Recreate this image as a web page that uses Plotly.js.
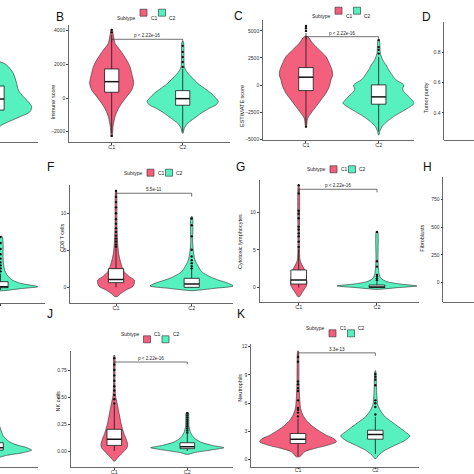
<!DOCTYPE html>
<html><head><meta charset="utf-8">
<script src="https://cdn.plot.ly/plotly-3.0.1.min.js"></script>
<style>html,body{margin:0;padding:0;background:#fff}#chart{width:474px;height:474px}</style>
</head><body><div id="chart"></div>
<script>
// ---------------- DATA ----------------
const categories = ['C1', 'C2'];
const legendTitle = 'Subtype';

// Y tick labels per panel
const yTicksB = [-2000, 0, 2000, 4000];
const yTicksC = [-5000, -2500, 0, 2500, 5000];
const yTicksD = [0.4, 0.6, 0.8];
const yTicksF = [0, 5, 10];
const yTicksG = [0, 5, 10];
const yTicksH = [0, 250, 500, 750];
const yTicksJ = [0, 0.25, 0.5, 0.75];
const yTickTextJ = ['0.00', '0.25', '0.50', '0.75'];
const yTicksK = [0, 3, 6, 9, 12];

const yTitles = ['Immune score', 'ESTIMATE score', 'Tumor purity', 'CD8 T cells',
                 'Cytotoxic lymphocytes', 'Fibroblasts', 'NK cells', 'Neutrophils'];
const panelLetters = ['B', 'C', 'D', 'F', 'G', 'H', 'J', 'K'];

// Violin profiles: y levels and half-widths (category units); boxes: [lower, q1, median, q3, upper]
const A_C2_y = [2855, 2160, 2065, 1863, 1472, 878, 481, 83, -214, -511, -807, -1104, -1401, -1597, -1775];
const A_C2_w = [0.01, 0.042, 0.099, 0.16, 0.23, 0.277, 0.3, 0.371, 0.441, 0.488, 0.465, 0.324, 0.16, 0.066, 0.01];
const A_C2_box = [-1500, -706, -54, 718, 2100];

const B_C1_y = [4083, 3252, 2855, 2261, 1864, 1472, 878, 481, 83, -309, -706, -1104, -1698, -2291];
const B_C1_w = [0.005, 0.047, 0.117, 0.211, 0.258, 0.282, 0.31, 0.282, 0.211, 0.141, 0.085, 0.047, 0.019, 0.005];
const B_C1_box = [-2100, 344, 973, 1727, 3750];
const B_C1_out = [3900, 4050, -2250];
const B_C2_y = [3349, 1865, 1568, 1272, 876, 580, 283, -14, -212, -410, -607, -904, -1201, -1498, -1794, -2091];
const B_C2_w = [0.009, 0.023, 0.056, 0.117, 0.211, 0.305, 0.399, 0.469, 0.502, 0.469, 0.376, 0.258, 0.164, 0.07, 0.023, 0.005];
const B_C2_box = [-2000, -428, -36, 440, 1740];
const B_C2_out = [1850, 2140, 2440, 2740, 3100];

const C_C1_y = [4476, 3861, 3244, 2628, 2013, 1396, 934, 472, -144, -759, -1376, -1992, -2607, -3069, -3840];
const C_C1_w = [0.023, 0.092, 0.183, 0.275, 0.321, 0.358, 0.367, 0.344, 0.321, 0.275, 0.206, 0.138, 0.069, 0.023, 0.005];
const C_C1_box = [-3700, -516, 722, 1610, 4800];
const C_C1_out = [5000, 5250, 5450, -3850];
const C_C2_y = [4168, 2937, 2320, 1858, 1396, 934, 472, 10, -452, -914, -1376, -1684, -1992, -2454, -2916, -3378, -3840, -4302, -4610];
const C_C2_w = [0.009, 0.023, 0.055, 0.101, 0.138, 0.183, 0.239, 0.344, 0.33, 0.39, 0.459, 0.491, 0.436, 0.321, 0.206, 0.115, 0.046, 0.014, 0.005];
const C_C2_box = [-4300, -1773, -1098, 10, 2600];
const C_C2_out = [2900, 3250, 3500, 4150];

const E_C2_y = [6.86, 3.72, 2.38, 1.70, 1.03, 0.59, 0.14, -0.13, -0.4];
const E_C2_w = [0.022, 0.035, 0.053, 0.088, 0.154, 0.264, 0.493, 0.264, 0.044];
const E_C2_box = [-0.3, 0.0, 0.14, 0.81, 1.9];
const E_C2_out = [2.2, 2.6, 3.0, 3.4, 3.9, 4.5, 5.2, 6.0, 6.8];

const F_C1_y = [13.13, 8.2, 5.96, 4.62, 3.72, 2.83, 2.15, 1.48, 1.03, 0.59, 0.14, -0.31, -0.76, -1.2];
const F_C1_w = [0.004, 0.013, 0.022, 0.035, 0.053, 0.079, 0.11, 0.176, 0.242, 0.242, 0.22, 0.132, 0.066, 0.013];
const F_C1_box = [0.05, 0.68, 1.1, 2.56, 5.3];
const F_C1_out = [5.5, 5.8, 6.2, 6.6, 7.0, 7.5, 8.0, 8.6, 9.2, 10.0, 10.8, 11.5, 12.2, 13.0];
const F_C2_y = [9.54, 5.96, 4.62, 3.72, 2.83, 2.15, 1.48, 1.03, 0.59, 0.23, -0.08, -0.4];
const F_C2_w = [0.009, 0.013, 0.026, 0.044, 0.088, 0.132, 0.242, 0.352, 0.485, 0.551, 0.308, 0.022];
const F_C2_box = [0.0, 0.05, 0.5, 1.26, 2.5];
const F_C2_out = [2.6, 2.9, 3.3, 3.7, 4.2, 5.1, 6.9, 8.4, 9.3];

const G_C1_y = [13.62, 5.88, 3.67, 3.01, 2.35, 1.46, 0.58, 0.14, -0.53, -1.19];
const G_C1_w = [0.004, 0.009, 0.017, 0.043, 0.077, 0.094, 0.106, 0.094, 0.051, 0.009];
const G_C1_box = [0.02, 0.49, 1.02, 2.35, 5.1];
const G_C1_out = [5.4, 6.1, 6.8, 7.2, 7.7, 8.1, 9.2, 9.8, 10.2, 12.5, 13.6];
const G_C2_y = [7.43, 3.67, 1.9, 1.24, 0.8, 0.49, 0.23, 0.0, -0.22];
const G_C2_w = [0.009, 0.013, 0.026, 0.051, 0.128, 0.298, 0.511, 0.255, 0.021];
const G_C2_box = [0.0, 0.02, 0.1, 0.35, 0.8];
const G_C2_out = [1.0, 1.24, 1.5, 1.7, 2.8, 3.5, 7.4];

const I_C2_y = [0.262, 0.201, 0.139, 0.093, 0.062, 0.031, 0.009, -0.015, -0.040, -0.052, -0.065];
const I_C2_w = [0.03, 0.064, 0.1, 0.169, 0.26, 0.42, 0.489, 0.374, 0.146, 0.078, 0.02];
const I_C2_box = [0.0, 0.009, 0.031, 0.077, 0.18];

const J_C1_y = [0.886, 0.633, 0.509, 0.448, 0.386, 0.324, 0.262, 0.201, 0.154, 0.108, 0.062, 0.031, 0, -0.031, -0.062, -0.093];
const J_C1_w = [0.005, 0.009, 0.018, 0.037, 0.055, 0.073, 0.091, 0.114, 0.137, 0.164, 0.183, 0.174, 0.137, 0.091, 0.046, 0.009];
const J_C1_box = [0.0, 0.052, 0.108, 0.201, 0.425];
const J_C1_out = [0.44, 0.48, 0.52, 0.56, 0.6, 0.65, 0.7, 0.75, 0.8, 0.86];
const J_C2_y = [0.355, 0.231, 0.17, 0.123, 0.083, 0.052, 0.031, 0.009, -0.015, -0.031];
const J_C2_w = [0.014, 0.023, 0.046, 0.091, 0.183, 0.342, 0.502, 0.32, 0.091, 0.014];
const J_C2_box = [0.0, 0.022, 0.04, 0.077, 0.16];
const J_C2_out = [0.17, 0.19, 0.21, 0.23, 0.25, 0.27, 0.29, 0.31, 0.33, 0.35];

const K_C1_y = [11.55, 8.21, 6.46, 5.41, 4.71, 4.18, 3.65, 3.13, 2.6, 2.18, 1.9, 1.55, 1.2, 0.85, 0.32];
const K_C1_w = [0.004, 0.013, 0.022, 0.034, 0.065, 0.108, 0.172, 0.259, 0.366, 0.474, 0.496, 0.388, 0.216, 0.086, 0.022];
const K_C1_box = [0.4, 1.73, 2.18, 2.78, 4.35];
const K_C1_out = [4.6, 5.0, 5.3, 5.5, 6.3, 7.3, 7.6, 8.0, 8.3, 10.4, 10.9];
const K_C2_y = [9.44, 7.16, 5.76, 5.06, 4.53, 4.0, 3.48, 2.95, 2.53, 2.07, 1.55, 1.02, 0.49, 0.14];
const K_C2_w = [0.004, 0.017, 0.034, 0.078, 0.129, 0.216, 0.302, 0.388, 0.448, 0.388, 0.259, 0.129, 0.043, 0.009];
const K_C2_box = [0.6, 2.18, 2.67, 3.13, 4.55];
const K_C2_out = [4.8, 5.6, 6.0, 6.3, 7.9, 8.5, 8.8, 9.1];

// Significance brackets
const sigPanels = ['B', 'C', 'F', 'G', 'J', 'K'];
const sigHeights = [3490, 4463, 12.69, 13.05, 0.824, 11.34];
const sigTips = [180, 277, 0.45, 0.4, 0.021, 0.32];
const pLabels = ['p < 2.22e-16', 'p < 2.22e-16', '5.5e-11', 'p < 2.22e-16', 'p < 2.22e-16', '3.3e-13'];

// ---------------- LAYOUT / STYLE ----------------
const W = 474;
const FONT = 'Liberation Sans, Arial, sans-serif';
const COL = {C1: '#F2607E', C2: '#57F0BF'};
const INK = '#2a2a2a';
const BOXW = 0.1; // half box width in category units
const px = x => x / W;
const py = y => 1 - y / W;

// panel frames in pixels: [left, right, top, bottom]
const panels = [
  {id: 'A', f: [0, 38, 25, 142.5], xr: [2.042, 2.577], yr: [-2630, 4338], yt: null, xt: [2]},
  {id: 'B', f: [69, 230, 25, 142], xr: [0.399, 2.666], yr: [-2611, 4338], yt: yTicksB, xt: [1, 2]},
  {id: 'C', f: [263, 414, 20, 140], xr: [0.409, 2.486], yr: [-5082, 6006], yt: yTicksC, xt: [1, 2]},
  {id: 'D', f: [444.3, 474, 21.7, 140], xr: [0.42, 0.829], yr: [0.222, 1.0], yt: yTicksD, xt: [], fmt: '.1f'},
  {id: 'E', f: [0, 45, 185, 302.7], xr: [1.993, 2.588], yr: [-2.016, 13.8], yt: null, xt: [2]},
  {id: 'F', f: [70, 233, 185, 302.7], xr: [0.392, 2.546], yr: [-2.016, 13.8], yt: yTicksF, xt: [1, 2]},
  {id: 'G', f: [259.7, 418.7, 180, 301.7], xr: [0.502, 2.533], yr: [-1.857, 14.28], yt: yTicksG, xt: [1, 2]},
  {id: 'H', f: [443.3, 474, 176.7, 301.7], xr: [0.42, 0.82], yr: [-171, 953], yt: yTicksH, xt: []},
  {id: 'I', f: [0, 38, 351, 466.7], xr: [2.055, 2.575], yr: [-0.145, 0.926], yt: null, xt: [2]},
  {id: 'J', f: [70.7, 233, 351, 466.7], xr: [0.403, 2.626], yr: [-0.145, 0.926], yt: yTicksJ, xt: [1, 2], ytt: yTickTextJ},
  {id: 'K', f: [251, 418.7, 344.3, 466.7], xr: [0.392, 2.561], yr: [-0.74, 12.25], yt: yTicksK, xt: [1, 2], so: -3, tl: 1.5, xfs: 5},
];
const axId = {};
panels.forEach((p, i) => { axId[p.id] = i === 0 ? ['x', 'y'] : ['x' + (i + 1), 'y' + (i + 1)]; });

const series = [
  {p: 'A', c: 2, y: A_C2_y, w: A_C2_w, box: A_C2_box, out: []},
  {p: 'B', c: 1, y: B_C1_y, w: B_C1_w, box: B_C1_box, out: B_C1_out},
  {p: 'B', c: 2, y: B_C2_y, w: B_C2_w, box: B_C2_box, out: B_C2_out},
  {p: 'C', c: 1, y: C_C1_y, w: C_C1_w, box: C_C1_box, out: C_C1_out},
  {p: 'C', c: 2, y: C_C2_y, w: C_C2_w, box: C_C2_box, out: C_C2_out},
  {p: 'E', c: 2, y: E_C2_y, w: E_C2_w, box: E_C2_box, out: E_C2_out},
  {p: 'F', c: 1, y: F_C1_y, w: F_C1_w, box: F_C1_box, out: F_C1_out},
  {p: 'F', c: 2, y: F_C2_y, w: F_C2_w, box: F_C2_box, out: F_C2_out},
  {p: 'G', c: 1, y: G_C1_y, w: G_C1_w, box: G_C1_box, out: G_C1_out},
  {p: 'G', c: 2, y: G_C2_y, w: G_C2_w, box: G_C2_box, out: G_C2_out},
  {p: 'I', c: 2, y: I_C2_y, w: I_C2_w, box: I_C2_box, out: []},
  {p: 'J', c: 1, y: J_C1_y, w: J_C1_w, box: J_C1_box, out: J_C1_out},
  {p: 'J', c: 2, y: J_C2_y, w: J_C2_w, box: J_C2_box, out: J_C2_out},
  {p: 'K', c: 1, y: K_C1_y, w: K_C1_w, box: K_C1_box, out: K_C1_out},
  {p: 'K', c: 2, y: K_C2_y, w: K_C2_w, box: K_C2_box, out: K_C2_out},
];

const traces = [];
const base = {type: 'scatter', hoverinfo: 'skip', showlegend: false};
series.forEach(s => {
  const [xa, ya] = axId[s.p];
  const cat = categories[s.c - 1];
  const c = s.c, b = s.box;
  // violin outline
  const xs = s.y.map((v, k) => c - s.w[k]).concat(s.y.map((v, k) => c + s.w[k]).reverse());
  const ys = s.y.concat(s.y.slice().reverse());
  traces.push(Object.assign({}, base, {mode: 'lines', x: xs.concat([xs[0]]), y: ys.concat([ys[0]]),
    xaxis: xa, yaxis: ya, fill: 'toself', fillcolor: COL[cat],
    line: {color: INK, width: 0.6, shape: 'spline', smoothing: 0.7}}));
  // whiskers
  traces.push(Object.assign({}, base, {mode: 'lines', x: [c, c], y: [b[0], b[4]], xaxis: xa, yaxis: ya,
    line: {color: '#151515', width: 0.8}}));
  // box
  traces.push(Object.assign({}, base, {mode: 'lines', x: [c - BOXW, c + BOXW, c + BOXW, c - BOXW, c - BOXW],
    y: [b[1], b[1], b[3], b[3], b[1]], xaxis: xa, yaxis: ya, fill: 'toself', fillcolor: '#ffffff',
    line: {color: '#151515', width: 0.8}}));
  // median
  traces.push(Object.assign({}, base, {mode: 'lines', x: [c - BOXW, c + BOXW], y: [b[2], b[2]], xaxis: xa, yaxis: ya,
    line: {color: '#151515', width: 1.5}}));
  if (s.out.length) {
    traces.push(Object.assign({}, base, {mode: 'markers', x: s.out.map(() => c), y: s.out, xaxis: xa, yaxis: ya,
      marker: {color: '#111', size: 2.4}}));
  }
});
// empty traces so that the axis-only panels D and H are drawn
['D', 'H'].forEach(id => {
  const [xa, ya] = axId[id];
  traces.push(Object.assign({}, base, {mode: 'markers', x: [], y: [], xaxis: xa, yaxis: ya}));
});

const annotations = [];
sigPanels.forEach((id, i) => {
  const [xa, ya] = axId[id];
  const h = sigHeights[i], t = sigTips[i];
  traces.push(Object.assign({}, base, {mode: 'lines', x: [1, 1, 2, 2], y: [h - t, h, h, h - t], xaxis: xa, yaxis: ya,
    line: {color: '#333', width: 0.7}}));
  annotations.push({xref: xa, yref: ya, x: 1.5, y: h, text: pLabels[i], showarrow: false, yanchor: 'bottom',
    yshift: -1, font: {family: FONT, size: 4.6, color: '#222'}});
});

const layout = {width: W, height: W, margin: {l: 0, r: 0, t: 0, b: 0}, paper_bgcolor: '#fff', plot_bgcolor: 'rgba(0,0,0,0)',
  showlegend: false, annotations: annotations, shapes: []};
panels.forEach((p, i) => {
  const xk = i === 0 ? 'xaxis' : 'xaxis' + (i + 1);
  const yk = i === 0 ? 'yaxis' : 'yaxis' + (i + 1);
  const [xa, ya] = axId[p.id];
  layout[xk] = {domain: [px(p.f[0]), px(p.f[1])], range: p.xr, anchor: ya, showgrid: false, zeroline: false,
    showline: true, linecolor: '#444', linewidth: 0.8, ticks: p.xt.length ? 'outside' : '', ticklen: p.tl || 2, tickcolor: '#444',
    ticklabelstandoff: p.so !== undefined ? p.so : -2,
    tickvals: p.xt, ticktext: p.xt.map(v => categories[v - 1]),
    tickfont: {family: FONT, size: p.xfs || 5.5, color: '#333'}, fixedrange: true};
  const ya_ = {domain: [py(p.f[3]), py(p.f[2])], range: p.yr, anchor: xa, showgrid: false, zeroline: false, fixedrange: true};
  if (p.yt) {
    Object.assign(ya_, {showline: true, linecolor: '#444', linewidth: 0.8, ticks: 'outside', ticklen: 2, tickcolor: '#444',
      tickvals: p.yt, tickfont: {family: FONT, size: 5, color: '#333'}});
    if (p.ytt) ya_.ticktext = p.ytt;
    else if (p.fmt) ya_.tickformat = p.fmt;
  } else {
    Object.assign(ya_, {showline: false, showticklabels: false, ticks: ''});
  }
  layout[yk] = ya_;
});

// y-axis titles (pixel positions)
const titlePos = [[48, 83], [242, 83], [431.7, 80], [57, 238], [240, 242], [426.7, 238], [52.5, 414], [239.7, 404]];
yTitles.forEach((t, i) => annotations.push({xref: 'paper', yref: 'paper', x: px(titlePos[i][0]), y: py(titlePos[i][1]),
  text: t, textangle: -90, showarrow: false, font: {family: FONT, size: 5.5, color: '#222'}}));

// panel letters
const letterPos = [[54, 8], [239, 7], [433, 8], [45, 167], [240, 167], [434, 167], [45, 323], [241, 323]];
panelLetters.forEach((t, i) => annotations.push({xref: 'paper', yref: 'paper', x: px(letterPos[i][0]), y: py(letterPos[i][1]),
  text: t, showarrow: false, font: {family: FONT, size: 12, color: '#111'}}));

// legends (key positions in pixels: left of C1 key, vertical centre)
const legendPos = [[140, 12.7], [335, 10.7], [147, 172.7], [330, 169.3], [143.5, 339.3], [329, 333.3]];
legendPos.forEach(([x0, yc]) => {
  annotations.push({xref: 'paper', yref: 'paper', x: px(x0 - 2), y: py(yc), xanchor: 'right', text: legendTitle,
    showarrow: false, font: {family: FONT, size: 5, color: '#222'}});
  categories.forEach((c, k) => {
    const bx = x0 + k * 18.5;
    layout.shapes.push({type: 'rect', xref: 'paper', yref: 'paper', x0: px(bx), x1: px(bx + 7), y0: py(yc + 3.5), y1: py(yc - 3.5),
      fillcolor: COL[c], line: {color: INK, width: 0.6}});
    annotations.push({xref: 'paper', yref: 'paper', x: px(bx + 8.5), y: py(yc), xanchor: 'left', text: c,
      showarrow: false, font: {family: FONT, size: 5, color: '#222'}});
  });
});

Plotly.newPlot('chart', traces, layout, {staticPlot: true, displayModeBar: false});
</script></body></html>
